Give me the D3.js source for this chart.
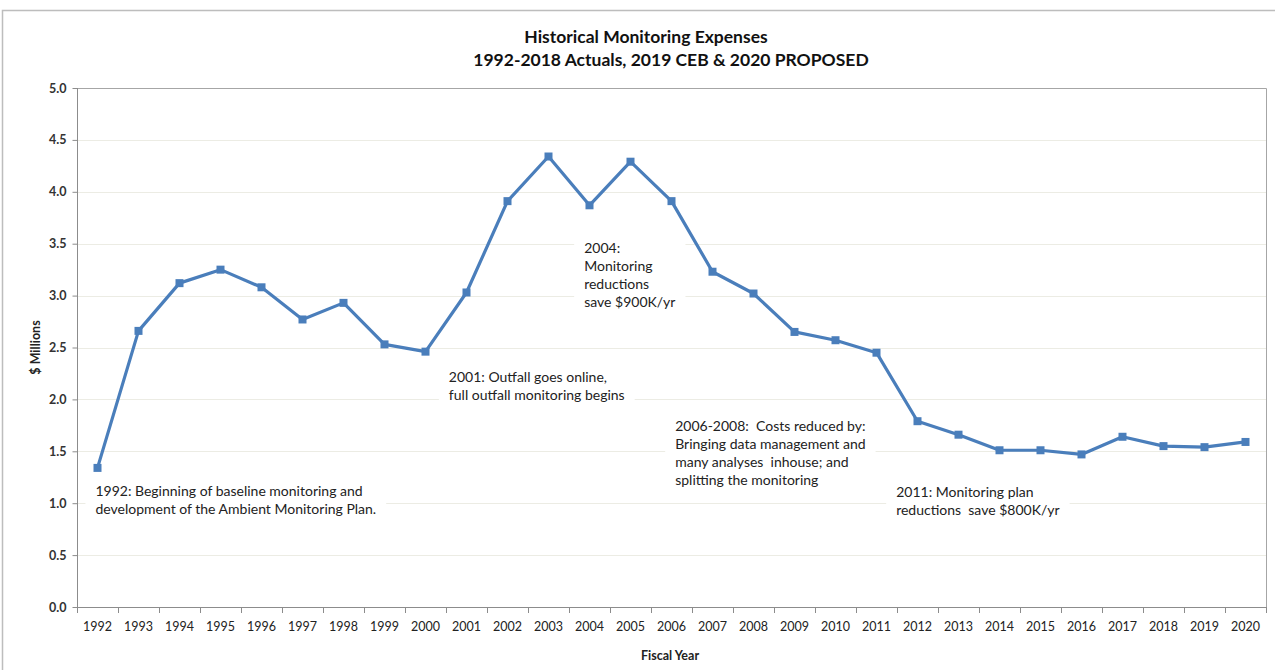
<!DOCTYPE html>
<html>
<head>
<meta charset="utf-8">
<script src="https://cdn.jsdelivr.net/npm/d3@7"></script>
<style>
  body { margin: 0; background: #fff; }
  svg { display: block; font-family: Lato, "Open Sans", sans-serif; }
</style>
</head>
<body>
<div id="chart"></div>
<script>
var years = ["1992","1993","1994","1995","1996","1997","1998","1999","2000","2001",
             "2002","2003","2004","2005","2006","2007","2008","2009","2010","2011",
             "2012","2013","2014","2015","2016","2017","2018","2019","2020"];
var expenses = [1.34, 2.66, 3.12, 3.25, 3.08, 2.77, 2.93, 2.53, 2.46, 3.03,
                3.91, 4.34, 3.87, 4.29, 3.91, 3.23, 3.02, 2.65, 2.57, 2.45,
                1.79, 1.66, 1.51, 1.51, 1.47, 1.64, 1.55, 1.54, 1.59];
var y_ticks = [0, 0.5, 1.0, 1.5, 2.0, 2.5, 3.0, 3.5, 4.0, 4.5, 5.0];
var title_lines = ["Historical Monitoring Expenses", "1992-2018 Actuals, 2019 CEB & 2020 PROPOSED"];
// annotation anchors in data units (fractional year, $M at first baseline)
var note_years = [1991.95, 2000.57, 2003.87, 2006.09, 2011.48];
var note_values = [1.07, 2.17, 3.41, 1.70, 1.06];
var note_texts = [
  ["1992: Beginning of baseline monitoring and", "development of the Ambient Monitoring Plan."],
  ["2001: Outfall goes online,", "full outfall monitoring begins"],
  ["2004:", "Monitoring", "reductions", "save $900K/yr"],
  ["2006-2008:  Costs reduced by:", "Bringing data management and", "many analyses  inhouse; and", "splitting the monitoring"],
  ["2011: Monitoring plan", "reductions  save $800K/yr"]
];

var chart_width = 1275, chart_height = 670,
    plot_left = 77, plot_right = 1266, plot_top = 88, plot_bottom = 607,
    line_color = "#4a7ebb";

var svg = d3.select("#chart").append("svg")
    .attr("width", chart_width)
    .attr("height", chart_height);

// outer chart border (only top & left visible)
svg.append("path")
    .attr("d", "M2.5,670 L2.5,10.5 L1275,10.5")
    .attr("fill", "none")
    .attr("stroke", "#bdbdbd")
    .attr("stroke-width", 1.5);

var x = d3.scaleBand().domain(years).range([plot_left, plot_right]).padding(0);
var y = d3.scaleLinear().domain([0, 5]).range([plot_bottom, plot_top]);
var x_year = d3.scaleLinear()
    .domain([+years[0], +years[years.length - 1]])
    .range([x(years[0]) + x.bandwidth() / 2, x(years[years.length - 1]) + x.bandwidth() / 2]);

// gridlines
svg.append("g").selectAll("line")
    .data(y_ticks.slice(1, -1))
    .join("line")
    .attr("x1", plot_left).attr("x2", plot_right)
    .attr("y1", function (d) { return Math.round(y(d)) + 0.5; })
    .attr("y2", function (d) { return Math.round(y(d)) + 0.5; })
    .attr("stroke", "#ecece4")
    .attr("stroke-width", 1);

// plot area border top & right
svg.append("path")
    .attr("d", "M" + plot_left + "," + (plot_top + 0.5) + " L" + (plot_right + 0.5) + "," + (plot_top + 0.5) +
        " L" + (plot_right + 0.5) + "," + plot_bottom)
    .attr("fill", "none")
    .attr("stroke", "#a6a6a6")
    .attr("stroke-width", 1);

// y axis
var y_axis = svg.append("g")
    .attr("transform", "translate(" + (plot_left + 0.5) + ",0)")
    .call(d3.axisLeft(y).tickValues(y_ticks).tickFormat(d3.format(".1f")).tickSize(5).tickPadding(6));
y_axis.select(".domain").attr("stroke", "#8c8c8c").attr("d", "M0," + plot_top + "V" + plot_bottom);
y_axis.selectAll(".tick line").attr("stroke", "#8c8c8c");
y_axis.selectAll("text")
    .attr("font-size", 12.5).attr("font-weight", "bold").attr("fill", "#333")
    .attr("font-family", "Lato, sans-serif");

// x axis (labels centered, ticks at category edges)
var x_axis = svg.append("g")
    .attr("transform", "translate(0," + (plot_bottom + 0.5) + ")")
    .call(d3.axisBottom(x).tickSize(0).tickPadding(15));
x_axis.select(".domain").attr("stroke", "#8c8c8c").attr("d", "M" + plot_left + ",0H" + (plot_right + 1));
x_axis.selectAll("text")
    .attr("font-size", 12.5).attr("fill", "#222")
    .attr("font-family", "Lato, sans-serif");
svg.append("g").selectAll("line")
    .data(d3.range(years.length + 1))
    .join("line")
    .attr("x1", function (i) { return Math.round(plot_left + i * x.step()) + 0.5; })
    .attr("x2", function (i) { return Math.round(plot_left + i * x.step()) + 0.5; })
    .attr("y1", plot_bottom).attr("y2", plot_bottom + 6)
    .attr("stroke", "#8c8c8c");

// annotations with white backgrounds
note_texts.forEach(function (lines, k) {
  var g = svg.append("g");
  var tx = x_year(+note_years[k]), ty = y(note_values[k]);
  var text = g.append("text")
      .attr("font-size", 14)
      .attr("fill", "#222")
      .attr("font-family", "Lato, sans-serif");
  text.selectAll("tspan")
      .data(lines)
      .join("tspan")
      .attr("x", tx)
      .attr("y", function (d, i) { return ty + i * 18; })
      .attr("xml:space", "preserve")
      .style("white-space", "pre")
      .text(function (d) { return d; });
  var bb = text.node().getBBox();
  g.insert("rect", "text")
      .attr("x", bb.x - 10).attr("y", bb.y - 8)
      .attr("width", bb.width + 20).attr("height", bb.height + 16)
      .attr("fill", "#fff");
});

// series line
svg.append("path")
    .datum(expenses)
    .attr("fill", "none")
    .attr("stroke", line_color)
    .attr("stroke-width", 3.2)
    .attr("stroke-linejoin", "round")
    .attr("d", d3.line()
        .x(function (d, i) { return x(years[i]) + x.bandwidth() / 2; })
        .y(function (d) { return y(d); }));

svg.append("g").selectAll("rect")
    .data(expenses)
    .join("rect")
    .attr("x", function (d, i) { return x(years[i]) + x.bandwidth() / 2 - 4; })
    .attr("y", function (d) { return y(d) - 4; })
    .attr("width", 8).attr("height", 8)
    .attr("fill", line_color);

// title
svg.append("text")
    .attr("x", 646).attr("y", 43)
    .attr("text-anchor", "middle")
    .attr("font-size", 17.5).attr("font-weight", "bold").attr("fill", "#111")
    .text(title_lines[0]);
svg.append("text")
    .attr("x", 671).attr("y", 66)
    .attr("text-anchor", "middle")
    .attr("font-size", 17.5).attr("font-weight", "bold").attr("fill", "#111")
    .text(title_lines[1]);

// axis titles
svg.append("text")
    .attr("transform", "translate(40," + ((plot_top + plot_bottom) / 2) + ") rotate(-90)")
    .attr("text-anchor", "middle")
    .attr("font-size", 12.5).attr("font-weight", "bold").attr("fill", "#222")
    .text("$ Millions");
svg.append("text")
    .attr("x", 670).attr("y", 660)
    .attr("text-anchor", "middle")
    .attr("font-size", 12.5).attr("font-weight", "bold").attr("fill", "#222")
    .text("Fiscal Year");
</script>
</body>
</html>
